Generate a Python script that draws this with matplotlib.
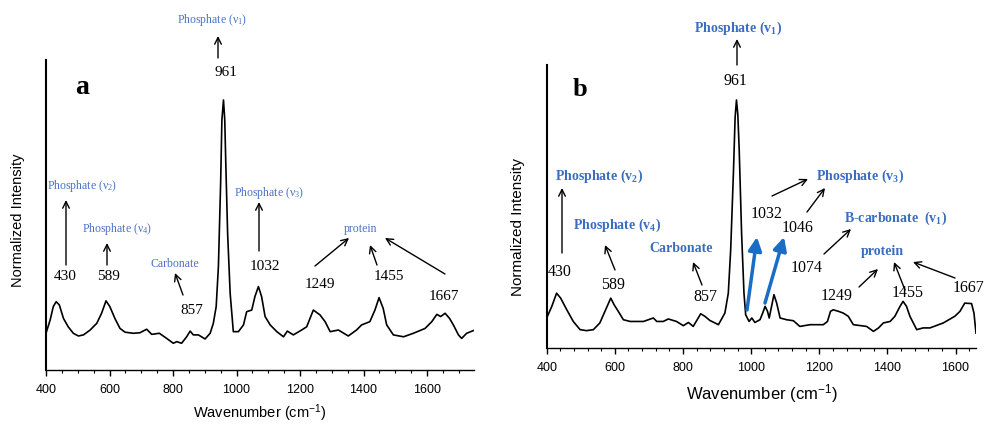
import matplotlib
matplotlib.use("Agg")
import matplotlib.pyplot as plt
from matplotlib.patches import FancyArrowPatch
from matplotlib.ticker import MultipleLocator

plt.rcParams['mathtext.default'] = 'regular'

# spectrum a (wavenumber, normalized intensity)
wn_a = [400, 413, 423, 432, 442, 455, 470, 486, 502, 518, 539, 560, 575, 589, 601,
        617, 633, 649, 675, 696, 717, 733, 757, 780, 801, 812, 827, 843, 854, 864,
        880, 901, 917, 927, 936, 943, 950, 954, 959, 963, 966, 972, 980, 990, 1006,
        1022, 1032, 1048, 1058, 1069, 1079, 1090, 1106, 1127, 1148, 1160, 1179, 1205,
        1221, 1242, 1263, 1279, 1295, 1321, 1352, 1378, 1394, 1420, 1436, 1449, 1462,
        1473, 1494, 1526, 1557, 1594, 1615, 1631, 1643, 1657, 1671, 1683, 1699, 1709,
        1725, 1746]
int_a = [0.136, 0.185, 0.235, 0.253, 0.241, 0.191, 0.160, 0.136, 0.126, 0.130, 0.148,
         0.173, 0.210, 0.256, 0.235, 0.191, 0.154, 0.140, 0.136, 0.138, 0.151, 0.132,
         0.136, 0.117, 0.099, 0.105, 0.099, 0.123, 0.144, 0.130, 0.130, 0.115, 0.136,
         0.173, 0.235, 0.383, 0.691, 0.926, 1.000, 0.926, 0.778, 0.506, 0.284, 0.142,
         0.142, 0.167, 0.216, 0.222, 0.272, 0.309, 0.272, 0.198, 0.167, 0.142, 0.123,
         0.144, 0.130, 0.148, 0.160, 0.222, 0.204, 0.179, 0.142, 0.148, 0.126, 0.148,
         0.167, 0.179, 0.222, 0.268, 0.228, 0.167, 0.130, 0.123, 0.136, 0.154, 0.179,
         0.206, 0.198, 0.210, 0.191, 0.167, 0.130, 0.117, 0.136, 0.146]

# spectrum b
wn_b = [400, 415, 429, 441, 459, 478, 498, 517, 537, 556, 571, 588, 598, 610, 625,
        645, 684, 713, 723, 742, 757, 781, 801, 816, 830, 852, 864, 879, 904, 923,
        933, 940, 948, 953, 957, 961, 965, 972, 979, 984, 994, 1002, 1011, 1026, 1034,
        1041, 1048, 1053, 1060, 1067, 1075, 1085, 1104, 1124, 1143, 1173, 1212, 1224,
        1233, 1241, 1256, 1270, 1285, 1300, 1339, 1359, 1374, 1388, 1408, 1422, 1437,
        1446, 1456, 1466, 1486, 1505, 1525, 1564, 1598, 1613, 1627, 1647, 1654, 1660]
int_b = [0.121, 0.168, 0.221, 0.201, 0.154, 0.107, 0.074, 0.070, 0.074, 0.101, 0.148,
         0.201, 0.174, 0.148, 0.114, 0.107, 0.107, 0.121, 0.107, 0.107, 0.117, 0.107,
         0.090, 0.103, 0.087, 0.138, 0.128, 0.111, 0.094, 0.141, 0.221, 0.396, 0.705,
         0.930, 1.000, 0.940, 0.799, 0.463, 0.221, 0.134, 0.107, 0.121, 0.103, 0.114,
         0.141, 0.168, 0.148, 0.121, 0.168, 0.215, 0.181, 0.121, 0.114, 0.110, 0.087,
         0.094, 0.094, 0.107, 0.148, 0.154, 0.148, 0.141, 0.128, 0.094, 0.087, 0.067,
         0.081, 0.101, 0.107, 0.128, 0.168, 0.188, 0.168, 0.128, 0.074, 0.081, 0.081,
         0.101, 0.128, 0.148, 0.181, 0.179, 0.141, 0.060]

W, H = 984, 424
blue_a = '#4a72c4'
blue_b = '#3a6cc0'
serif = 'Liberation Serif'
sans = 'Liberation Sans'


def P(x, y):
    # top-left pixel -> figure fraction
    return (x / W, 1 - y / H)


fig = plt.figure(figsize=(W / 100, H / 100), dpi=100)


def setup(ax, xlim, ylim, minor):
    ax.set_xlim(*xlim)
    ax.set_ylim(*ylim)
    for s in ['top', 'right']:
        ax.spines[s].set_visible(False)
    ax.spines['left'].set_linewidth(1.5)
    ax.spines['bottom'].set_linewidth(1.0)
    ax.set_yticks([])
    ax.xaxis.set_major_locator(MultipleLocator(200))
    ax.xaxis.set_minor_locator(MultipleLocator(minor))
    ax.tick_params(axis='x', which='major', direction='out', length=4, width=1,
                   labelsize=9, pad=6)
    ax.tick_params(axis='x', which='minor', direction='out', length=2.5, width=0.8)
    for t in ax.get_xticklabels():
        t.set_fontfamily(sans)


# ---- panel a
ax1 = fig.add_axes([46 / W, (H - 370) / H, (474 - 46) / W, (370 - 60) / H])
ax1.plot(wn_a, int_a, color='black', lw=1.2)
setup(ax1, (400, 1748), (0, 1.148), 50)
ax1.set_xlabel('Wavenumber (cm$^{-1}$)', fontfamily=sans, fontsize=10.5, labelpad=5)
fig.text(*P(18, 220), 'Normalized Intensity', rotation=90, ha='center', va='center',
         fontfamily=sans, fontsize=10.5)

# ---- panel b
ax2 = fig.add_axes([546.7 / W, (H - 348) / H, (976 - 546.7) / W, (348 - 65) / H])
ax2.plot(wn_b, int_b, color='black', lw=1.2)
setup(ax2, (400, 1660), (0, 1.141), 40)
ax2.set_xlabel('Wavenumber (cm$^{-1}$)', fontfamily=sans, fontsize=12, labelpad=6)
fig.text(*P(518, 227), 'Normalized Intensity', rotation=90, ha='center', va='center',
         fontfamily=sans, fontsize=11)


def arrow(x0, y0, x1, y1, color='black', lw=1.0, style='->', ms=12):
    fig.add_artist(FancyArrowPatch(P(x0, y0), P(x1, y1), transform=fig.transFigure,
                                   arrowstyle=style, color=color, lw=lw,
                                   mutation_scale=ms, shrinkA=0, shrinkB=0))


def lab(x, y, s, color='black', size=11, ha='center', weight='normal'):
    fig.text(*P(x, y), s, color=color, fontsize=size, ha=ha, va='center',
             fontfamily=serif, fontweight=weight)


# panel a annotations
lab(82, 88, 'a', size=20, weight='bold')
lab(212, 20, 'Phosphate (ν$_1$)', blue_a, 8.5)
arrow(218, 58, 218, 36)
lab(226, 73, '961', size=11)
lab(47, 186, 'Phosphate (ν$_2$)', blue_a, 8.5, ha='left')
arrow(66, 265, 66, 200)
lab(65, 277, '430', size=11)
lab(82, 229, 'Phosphate (ν$_4$)', blue_a, 8.5, ha='left')
arrow(107, 265, 107, 243)
lab(109, 277, '589', size=11)
lab(175, 264, 'Carbonate', blue_a, 8.5)
arrow(183, 295, 175, 273)
lab(192, 310, '857', size=11)
lab(234, 193, 'Phosphate (ν$_3$)', blue_a, 8.5, ha='left')
arrow(259, 251, 259, 202)
lab(265, 267, '1032', size=11)
lab(361, 229, 'protein', blue_a, 8.5)
arrow(315, 266, 349, 238)
arrow(377, 265, 370, 245)
arrow(445, 274, 385, 238)
lab(320, 284, '1249', size=11)
lab(389, 277, '1455', size=11)
lab(444, 296, '1667', size=11)

# panel b annotations
lab(580, 90, 'b', size=19, weight='bold')
lab(738, 28, 'Phosphate (v$_1$)', blue_b, 10, weight='bold')
arrow(737, 65, 737, 39)
lab(735, 81, '961', size=11.5)
lab(555, 176, 'Phosphate (v$_2$)', blue_b, 10, ha='left', weight='bold')
arrow(562, 253, 562, 188)
lab(560, 272, '430', size=11.5)
lab(573, 225, 'Phosphate (v$_4$)', blue_b, 10, ha='left', weight='bold')
arrow(615, 270, 605, 245)
lab(613, 285, '589', size=11.5)
lab(681, 249, 'Carbonate', blue_b, 10, weight='bold')
arrow(702, 285, 693, 262)
lab(705, 297, '857', size=11.5)
arrow(747, 310, 757, 237, color='#1a6dc4', lw=2.5, style='-|>', ms=20)
arrow(765, 303, 784, 237, color='#1a6dc4', lw=2.5, style='-|>', ms=20)
lab(767, 214, '1032', size=11.5)
arrow(772, 196, 808, 179)
lab(798, 228, '1046', size=11.5)
arrow(807, 212, 825, 188)
lab(816, 176, 'Phosphate (v$_3$)', blue_b, 10, ha='left', weight='bold')
lab(844, 218, 'B-carbonate  (v$_1$)', blue_b, 10, ha='left', weight='bold')
arrow(824, 254, 851, 229)
lab(807, 268, '1074', size=11.5)
lab(882, 252, 'protein', blue_b, 10, weight='bold')
lab(837, 296, '1249', size=11.5)
arrow(859, 287, 878, 269)
lab(908, 293, '1455', size=11.5)
arrow(905, 290, 894, 262)
lab(953, 288, '1667', size=11.5, ha='left')
arrow(955, 278, 913, 262)

fig.savefig('out.png', dpi=100)
